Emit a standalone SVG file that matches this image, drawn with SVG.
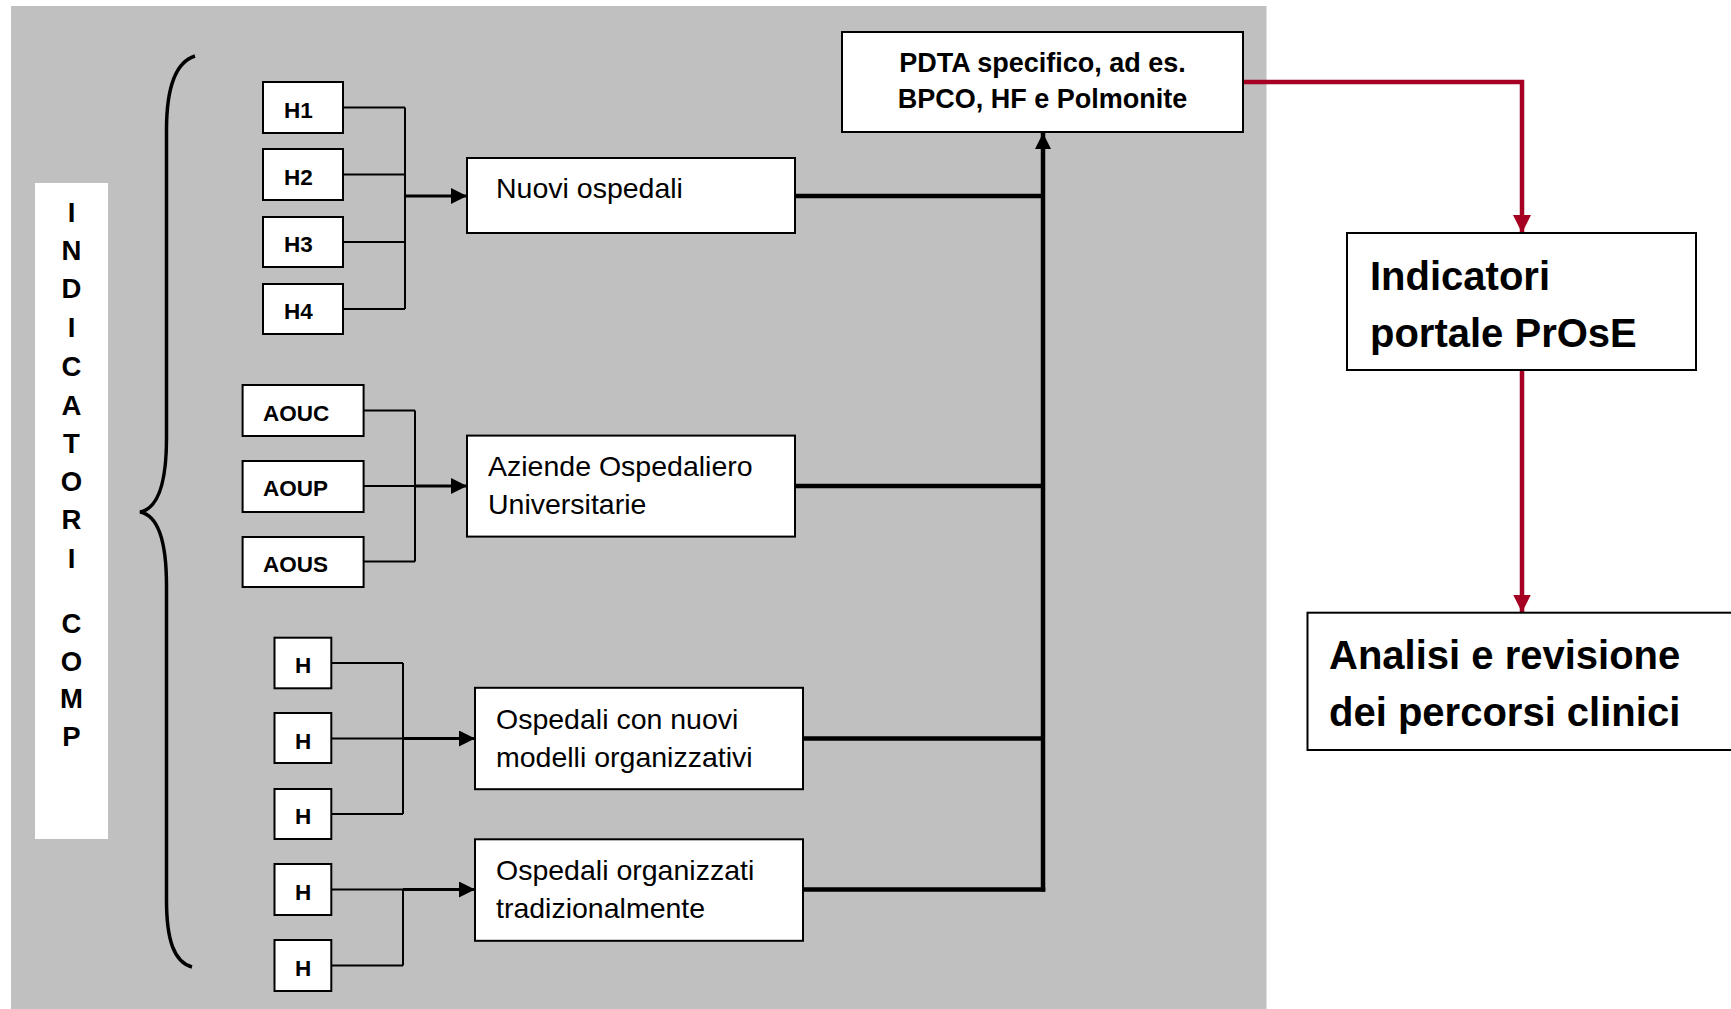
<svg xmlns="http://www.w3.org/2000/svg" width="1731" height="1009" viewBox="0 0 1731 1009">
<style>
.box{fill:#fff;stroke:#000;stroke-width:2}
.lbl{font-family:"Liberation Sans",Arial,sans-serif;font-weight:bold;font-size:22.5px;fill:#000}
.txt{font-family:"Liberation Sans",Arial,sans-serif;font-size:28.5px;fill:#000}
.big{font-family:"Liberation Sans",Arial,sans-serif;font-weight:bold;font-size:40px;fill:#000}
.pdta{font-family:"Liberation Sans",Arial,sans-serif;font-weight:bold;font-size:27px;fill:#000}
.vert{font-family:"Liberation Sans",Arial,sans-serif;font-weight:bold;font-size:27.5px;fill:#000}
.thin{fill:none;stroke:#000;stroke-width:2}
.arr{fill:none;stroke:#000;stroke-width:3}
.thick{fill:none;stroke:#000;stroke-width:4.5}
.red{fill:none;stroke:#A50021;stroke-width:4.5}
</style>
<defs>
<marker id="ah" markerUnits="userSpaceOnUse" markerWidth="16" markerHeight="16" refX="16" refY="8" orient="auto">
<path d="M0,0 L16,8 L0,16 Z" fill="#000"/>
</marker>
<marker id="ahr" markerUnits="userSpaceOnUse" markerWidth="18" markerHeight="18" refX="18" refY="9" orient="auto">
<path d="M0,0 L18,9 L0,18 Z" fill="#A50021"/>
</marker>
</defs>
<rect x="0" y="0" width="1731" height="1009" fill="#fff"/>
<rect id="background" x="11" y="6" width="1255.5" height="1003" fill="#C0C0C0"/>

<g id="indicatori-comp">
<rect x="35" y="183" width="73" height="656" fill="#fff"/>
<g class="vert" text-anchor="middle">
<text x="71.5" y="222">I</text>
<text x="71.5" y="260">N</text>
<text x="71.5" y="298">D</text>
<text x="71.5" y="337">I</text>
<text x="71.5" y="376">C</text>
<text x="71.5" y="415">A</text>
<text x="71.5" y="453">T</text>
<text x="71.5" y="491">O</text>
<text x="71.5" y="529">R</text>
<text x="71.5" y="568">I</text>
<text x="71.5" y="633">C</text>
<text x="71.5" y="671">O</text>
<text x="71.5" y="708">M</text>
<text x="71.5" y="746">P</text>
</g>
</g>

<g id="brace">
<path d="M195,56 C176,62 166.5,88 166.5,130 V438 C166.5,488 156,509 140,512 C156,515 166.5,536 166.5,586 V900 C166.5,940 174,962 192,967" fill="none" stroke="#000" stroke-width="3.5"/>
</g>

<g id="connectors">
<path class="thin" d="M343,107.5 H405 M343,174.5 H405 M343,242 H405 M343,309 H405 M405,107.5 V309"/>
<path class="arr" d="M405,196 H467" marker-end="url(#ah)"/>
<path class="thin" d="M363.6,410.5 H415 M363.6,561.5 H415 M415,410.5 V561.5 M363.6,486 H440"/>
<path class="arr" d="M415,486 H467" marker-end="url(#ah)"/>
<path class="thin" d="M331.3,663 H403 M331.3,814 H403 M403,663 V814 M331.3,738.5 H420"/>
<path class="arr" d="M403,738.5 H475" marker-end="url(#ah)"/>
<path class="thin" d="M331.3,965.5 H403 M403,889.5 V965.5 M331.3,889.5 H420"/>
<path class="arr" d="M403,889.5 H475" marker-end="url(#ah)"/>
<path class="thick" d="M795,196 H1043 M795,486 H1043 M803,738.5 H1043 M803,889.5 H1045.25"/>
<path class="thick" d="M1043,891.5 V133" marker-end="url(#ah)"/>
<path class="red" d="M1243,82 H1522 V233" marker-end="url(#ahr)"/>
<path class="red" d="M1522,370 V612.5" marker-end="url(#ahr)"/>
</g>

<g id="h1"><rect class="box" x="263" y="82" width="80" height="51"/><text class="lbl" x="284" y="118">H1</text></g>
<g id="h2"><rect class="box" x="263" y="149" width="80" height="51"/><text class="lbl" x="284" y="185">H2</text></g>
<g id="h3"><rect class="box" x="263" y="217" width="80" height="50"/><text class="lbl" x="284" y="252">H3</text></g>
<g id="h4"><rect class="box" x="263" y="284" width="80" height="50"/><text class="lbl" x="284" y="319">H4</text></g>

<g id="aouc"><rect class="box" x="242.6" y="385" width="121" height="51"/><text class="lbl" x="263" y="421">AOUC</text></g>
<g id="aoup"><rect class="box" x="242.6" y="461" width="121" height="51"/><text class="lbl" x="263" y="496">AOUP</text></g>
<g id="aous"><rect class="box" x="242.6" y="537" width="121" height="50"/><text class="lbl" x="263" y="571.5">AOUS</text></g>

<g id="h-a"><rect class="box" x="274.5" y="637.7" width="56.8" height="50.6"/><text class="lbl" x="303" y="673" text-anchor="middle">H</text></g>
<g id="h-b"><rect class="box" x="274.5" y="713" width="56.8" height="50"/><text class="lbl" x="303" y="748.5" text-anchor="middle">H</text></g>
<g id="h-c"><rect class="box" x="274.5" y="789" width="56.8" height="50"/><text class="lbl" x="303" y="824" text-anchor="middle">H</text></g>
<g id="h-d"><rect class="box" x="274.5" y="864" width="56.8" height="51"/><text class="lbl" x="303" y="899.5" text-anchor="middle">H</text></g>
<g id="h-e"><rect class="box" x="274.5" y="940" width="56.8" height="51"/><text class="lbl" x="303" y="975.5" text-anchor="middle">H</text></g>

<g id="nuovi-ospedali"><rect class="box" x="467" y="158" width="328" height="75"/><text class="txt" x="496" y="198">Nuovi ospedali</text></g>
<g id="aziende"><rect class="box" x="467" y="435.6" width="328" height="101"/><text class="txt" x="488" y="475.5">Aziende Ospedaliero</text><text class="txt" x="488" y="513.5">Universitarie</text></g>
<g id="ospedali-nuovi"><rect class="box" x="475" y="687.8" width="328" height="101.4"/><text class="txt" x="496" y="728.5">Ospedali con nuovi</text><text class="txt" x="496" y="766.5">modelli organizzativi</text></g>
<g id="ospedali-trad"><rect class="box" x="475" y="839.3" width="328" height="101.5"/><text class="txt" x="496" y="879.5">Ospedali organizzati</text><text class="txt" x="496" y="917.5">tradizionalmente</text></g>

<g id="pdta"><rect class="box" x="842" y="32" width="401" height="100"/><text class="pdta" x="1042.5" y="72" text-anchor="middle">PDTA specifico, ad es.</text><text class="pdta" x="1042.5" y="108" text-anchor="middle">BPCO, HF e Polmonite</text></g>

<g id="indicatori-prose"><rect class="box" x="1347" y="233" width="349" height="137"/><text class="big" x="1370" y="290">Indicatori</text><text class="big" x="1370" y="347">portale PrOsE</text></g>

<g id="analisi"><rect class="box" x="1307.5" y="612.7" width="440" height="137.3"/><text class="big" x="1329" y="669">Analisi e revisione</text><text class="big" x="1329" y="726">dei percorsi clinici</text></g>
</svg>
